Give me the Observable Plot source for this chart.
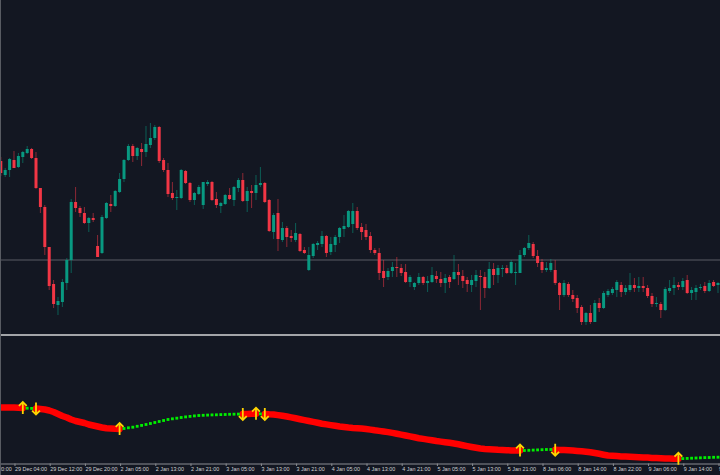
<!DOCTYPE html>
<html><head><meta charset="utf-8">
<script src="https://cdn.jsdelivr.net/npm/d3@7"></script>
<script src="https://cdn.jsdelivr.net/npm/@observablehq/plot@0.6"></script>
<style>
html,body{margin:0;padding:0;background:#131722;}
#chart{width:720px;height:475px;position:relative;overflow:hidden;background:#131722;}
#chart svg{display:block;}
.sep{height:2px;background:#a3a5a9;}
.lborder{position:absolute;left:0;top:0;width:1px;height:475px;background:#585b62;}
</style></head><body><div id="chart"></div><script>
// ---- candle data (one bar per hour, x = bar index) ----
const open = [179,165,170,180,173,183,187,191,182,152,
133,93,56,35,38,57,80,138,132,127,
117,122,94,87,122,136,134,148,161,180,
194,184,191,188,195,202,213,180,170,147,
142,142,169,157,140,146,135,156,158,141,
134,136,145,140,152,160,139,149,147,155,
157,140,108,127,100,112,104,100,106,90,
70,84,95,96,104,88,95,103,111,113,
116,129,113,110,104,90,87,69,63,69,
73,72,68,58,53,57,63,57,58,64,
61,57,63,61,68,64,60,55,59,64,
63,52,71,65,71,72,67,67,67,85,
92,96,84,78,70,70,70,57,45,56,
45,42,33,18,27,18,37,32,45,47,
50,55,48,50,55,52,54,52,44,36,
36,30,49,52,55,53,60,47,48,52,
54,49,58,55];
const high = [183,172,182,189,187,189,194,192,188,152,
135,93,60,43,61,82,141,153,134,133,
123,127,105,125,138,145,150,167,181,196,
196,193,197,214,217,215,214,182,177,158,
150,171,170,158,148,155,158,160,159,148,
138,146,152,154,162,167,153,155,165,173,
158,141,127,141,118,114,110,117,107,93,
93,97,99,109,105,103,105,113,125,130,
137,133,117,116,108,92,92,80,72,78,
83,76,76,65,58,67,64,64,73,69,
68,66,65,85,76,70,63,65,70,70,
68,78,77,75,75,75,80,77,90,93,
105,98,90,81,78,81,80,58,60,58,
50,45,35,28,35,40,42,49,51,53,
60,58,55,67,62,63,63,55,47,43,
38,53,60,63,58,62,65,53,55,56,
58,60,60,58];
const low = [164,163,163,172,172,177,186,181,151,127,
85,50,32,25,33,50,67,128,123,116,
108,118,83,86,121,128,133,147,158,179,
178,180,174,183,192,200,177,168,143,140,
130,141,156,138,135,145,131,154,139,132,
127,135,140,134,148,138,128,132,140,153,
137,108,101,89,98,93,98,98,88,86,
69,82,90,93,83,85,88,97,103,112,
107,110,100,100,87,85,60,53,60,63,
63,64,57,53,50,55,55,48,57,57,
53,47,52,60,55,52,48,48,53,30,
42,51,55,57,63,66,66,55,67,83,
90,82,73,67,68,68,55,30,43,43,
38,27,15,15,16,18,28,31,43,45,
43,43,45,48,48,48,48,42,33,33,
22,29,47,45,50,50,46,40,40,50,
47,48,53,47];
const close = [167,170,181,172,184,188,191,182,152,133,
93,54,36,39,58,80,138,132,127,117,
122,120,83,123,137,134,149,161,180,194,
184,192,188,196,202,213,179,170,146,142,
143,170,157,140,147,153,158,158,140,135,
137,145,141,153,160,139,149,147,155,157,
138,109,125,101,112,103,102,107,89,87,
85,96,97,104,87,96,103,112,114,129,
129,112,108,103,90,87,67,62,69,73,
72,67,58,63,57,63,57,59,65,61,
57,62,58,68,65,59,56,60,65,63,
52,71,65,72,72,67,78,68,85,92,
97,84,77,70,72,77,57,45,57,45,
41,32,18,27,18,37,32,47,49,51,
58,48,52,55,52,54,52,44,36,37,
30,51,52,55,53,59,47,50,52,53,
49,57,54,57];
const priceLevel = 80.5;

// ---- indicator (one value per bar) and its signal bars ----
const indicator = [63,63,63,63,62.8,62.5,62.3,62.1,62,61.5,
61,60,58.5,56.5,54.5,53,51,49.5,48.5,47.5,
46,45,44,43,42.3,42,41.7,41.5,42,42.7,
43.3,44.2,45.1,46,47,48,49,50,51,51.7,
52.3,53,53.6,54.1,54.6,55,55.2,55.4,55.6,55.7,
55.9,56,56.2,56.3,56.4,56.5,56.6,56.7,56.7,56.6,
56.5,56.2,56,55.4,54.7,54,53.1,52.2,51.3,50.4,
49.5,48.6,47.7,46.8,46.1,45.4,44.7,44,43.5,43,
42.6,42.3,41.9,41.5,40.9,40.2,39.6,39,38.4,37.6,
36.7,35.9,35,34.1,33.2,32.3,31.6,30.9,30.2,29.5,
28.9,28.3,27.7,27,26.2,25.3,24.4,23.5,22.7,22,
21.6,21.3,21,20.7,20.5,20.3,20.1,20,20,20,
20.2,20.4,20.6,20.8,21,21,20.8,20.6,20.4,20.2,
20,19.6,19.2,18.8,18.3,17.5,16.7,15.8,15,14.7,
14.4,14.1,13.9,13.7,13.5,13.3,13.1,12.9,12.6,12.4,
12.2,12,11.9,11.7,11.7,11.9,12.1,12.3,12.5,12.7,
12.9,13,13.2,13.3];
const upSignals = [5,27,58,118,154];
const downSignals = [8,55,60,126];

// ---- time axis labels (every 8 bars) ----
const tickBars = [-5,3,11,19,27,35,43,51,59,67,75,83,91,99,107,115,123,131,139,147,155,163];
const tickLabels = ["28 Dec 20:00","29 Dec 04:00","29 Dec 12:00","29 Dec 20:00","2 Jan 05:00","2 Jan 13:00","2 Jan 21:00","3 Jan 05:00","3 Jan 13:00","3 Jan 21:00","4 Jan 05:00","4 Jan 13:00","4 Jan 21:00","5 Jan 05:00","5 Jan 13:00","5 Jan 21:00","8 Jan 06:00","8 Jan 14:00","8 Jan 22:00","9 Jan 06:00","9 Jan 14:00","9 Jan 22:00"];

// ---- build tables ----
const GREEN = "#089981", RED = "#f23645";
const candles = open.map((o, i) => ({i, o, h: high[i], l: low[i], c: close[i]}));
const ups = candles.filter(d => d.c >= d.o);
const downs = candles.filter(d => d.c < d.o);

const upSet = new Set(upSignals), downSet = new Set(downSignals);
let state = "red";
const ind = indicator.map((v, i) => {
  if (upSet.has(i)) state = "green";
  if (downSet.has(i)) state = "red";
  return {i, v, state, signal: upSet.has(i) ? "up" : downSet.has(i) ? "down" : null};
});
// red segments (each extended to the bar where the trend flips back up)
const redPts = [];
let seg = 0;
ind.forEach((d, i) => {
  if (d.state === "red") {
    if (i > 0 && ind[i-1].state !== "red") seg++;
    redPts.push({...d, seg});
    const nx = ind[i+1];
    if (nx && nx.state !== "red") redPts.push({...nx, seg});
  }
});
const greenPts = ind.filter(d => d.state === "green" && !d.signal);
const upPts = ind.filter(d => d.signal === "up");
const downPts = ind.filter(d => d.signal === "down");
const labelOf = new Map(tickBars.map((b, k) => [b, tickLabels[k]]));

const arrowUp = {draw(ctx, size) {
  const r = Math.sqrt(size / Math.PI), w = r * 0.65;
  ctx.moveTo(0, r); ctx.lineTo(0, -r);
  ctx.moveTo(-w, -r + w); ctx.lineTo(0, -r); ctx.lineTo(w, -r + w);
}};
const arrowDown = {draw(ctx, size) {
  const r = Math.sqrt(size / Math.PI), w = r * 0.65;
  ctx.moveTo(0, -r); ctx.lineTo(0, r);
  ctx.moveTo(-w, r - w); ctx.lineTo(0, r); ctx.lineTo(w, r - w);
}};

const xDomain = [-0.068, 163.568];

const topPlot = Plot.plot({
  width: 720, height: 334, margin: 0,
  style: {background: "transparent"},
  x: {domain: xDomain, range: [0, 720], axis: null},
  y: {domain: [6, 340], range: [334, 0], axis: null},
  marks: [
    Plot.ruleY([priceLevel], {stroke: "#5a5d65", strokeWidth: 1.2}),
    Plot.ruleX(ups, {x: "i", y1: "l", y2: "h", stroke: GREEN, strokeOpacity: 0.55, strokeWidth: 1}),
    Plot.ruleX(downs, {x: "i", y1: "l", y2: "h", stroke: RED, strokeOpacity: 0.55, strokeWidth: 1}),
    Plot.ruleX(ups, {x: "i", y1: "o", y2: "c", stroke: GREEN, strokeWidth: 3}),
    Plot.ruleX(downs, {x: "i", y1: "o", y2: "c", stroke: RED, strokeWidth: 3})
  ]
});

const bottomPlot = Plot.plot({
  width: 720, height: 139, marginTop: 0, marginLeft: 0, marginRight: 0, marginBottom: 11.5,
  style: {background: "transparent", fontFamily: "Liberation Sans, Arial, sans-serif"},
  x: {domain: xDomain, range: [0, 720]},
  y: {domain: [-5, 134], range: [139, 0], axis: null},
  marks: [
    Plot.frame({anchor: "bottom", stroke: "#8b8d92"}),
    Plot.line(redPts, {x: "i", y: "v", z: "seg", stroke: "#ff0000", strokeWidth: 6.5}),
    Plot.dot(greenPts, {x: "i", y: "v", symbol: "square", r: 1.6, fill: "#00ee00", stroke: "none"}),
    Plot.dot(upPts, {x: "i", y: "v", symbol: arrowUp, r: 6, fill: "none", stroke: "#ffd400", strokeWidth: 1.8}),
    Plot.dot(downPts, {x: "i", y: "v", symbol: arrowDown, r: 6, fill: "none", stroke: "#ffd400", strokeWidth: 1.8}),
    Plot.axisX({ticks: tickBars, anchor: "bottom", tickSize: 2.5, tickPadding: 1,
      tickFormat: d => labelOf.get(d), textAnchor: "start", dx: 1, fontSize: 5.4,
      fill: "#cfd0d2", stroke: "#8b8d92", label: null})
  ]
});

const root = document.getElementById("chart");
root.appendChild(topPlot);
const sep = document.createElement("div"); sep.className = "sep"; root.appendChild(sep);
root.appendChild(bottomPlot);
const lb = document.createElement("div"); lb.className = "lborder"; root.appendChild(lb);
</script></body></html>
